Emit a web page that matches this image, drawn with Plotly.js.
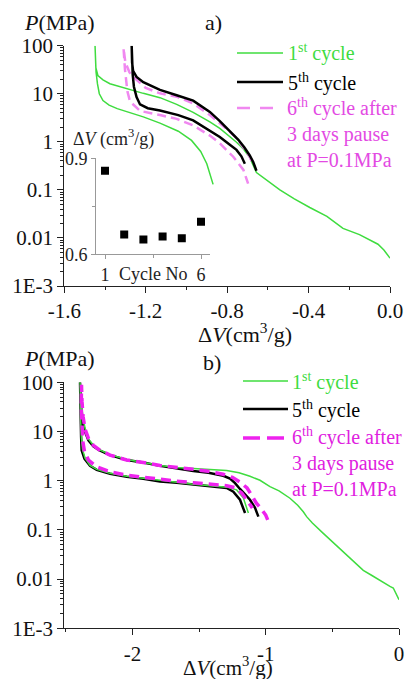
<!DOCTYPE html>
<html>
<head>
<meta charset="utf-8">
<script src="https://cdn.plot.ly/plotly-3.0.1.min.js"></script>
<style>
html,body{margin:0;padding:0;background:#fff;}
#chart{width:405px;height:679px;}
</style>
</head>
<body>
<div id="chart"></div>
<script>
// ---------------- DATA ----------------
// Panel a) 1st cycle (compression then decompression)
const a_cycle1_dV = [0.0, -0.03, -0.059, -0.15, -0.231, -0.31, -0.394, -0.47, -0.541, -0.60, -0.656, -0.689, -0.72, -0.754, -0.80, -0.836, -0.885, -0.934, -0.967, -1.048, -1.13, -1.212, -1.293, -1.376, -1.41, -1.435, -1.445, -1.448, -1.449,
                     -1.448, -1.444, -1.437, -1.428, -1.41, -1.38, -1.34, -1.29, -1.212, -1.13, -1.04, -0.975, -0.93, -0.90, -0.869];
const a_cycle1_P  = [0.0038, 0.0056, 0.0074, 0.0117, 0.0158, 0.028, 0.043, 0.065, 0.10, 0.15, 0.23, 0.47, 0.71, 0.98, 1.41, 1.9, 2.6, 3.4, 4.1, 6.0, 8.3, 10.2, 12.9, 16.2, 19.5, 24, 35, 56, 100,
                     50, 28, 16, 10, 7.2, 5.8, 4.9, 4.2, 3.3, 2.45, 1.66, 1.07, 0.63, 0.35, 0.13];
// Panel a) 5th cycle
const a_cycle5_dV = [-0.656, -0.672, -0.689, -0.715, -0.745, -0.79, -0.836, -0.885, -0.934, -0.967, -1.048, -1.13, -1.212, -1.245, -1.262, -1.267, -1.269,
                     -1.268, -1.264, -1.258, -1.245, -1.228, -1.19, -1.13, -1.04, -0.967, -0.90, -0.836, -0.79, -0.754, -0.73, -0.713];
const a_cycle5_P  = [0.25, 0.38, 0.52, 0.76, 1.1, 1.74, 2.7, 4.2, 5.75, 7.2, 9.3, 12, 17.4, 22.4, 30, 45, 100,
                     50, 25, 14, 8.5, 6.0, 5.0, 4.5, 3.6, 2.8, 1.9, 1.26, 0.89, 0.68, 0.5, 0.35];
// Panel a) 6th cycle after 3 days pause
const a_cycle6_dV = [-0.68, -0.689, -0.72, -0.754, -0.80, -0.885, -0.967, -1.048, -1.13, -1.20, -1.245, -1.28, -1.30, -1.309,
                     -1.305, -1.302, -1.297, -1.29, -1.277, -1.228, -1.13, -1.048, -0.967, -0.885, -0.836, -0.77, -0.72, -0.697];
const a_cycle6_P  = [0.40, 0.49, 0.76, 1.2, 1.82, 3.6, 6.3, 8.7, 10.2, 13.2, 19.5, 28, 45, 89,
                     50, 32, 17.8, 11.2, 6.9, 4.4, 3.6, 3.0, 2.2, 1.35, 0.93, 0.49, 0.26, 0.135];
// Inset: volume change per cycle
const inset_cycle = [1, 2, 3, 4, 5, 6];
const inset_dV    = [0.861, 0.662, 0.646, 0.656, 0.650, 0.702];
// Panel b) 1st cycle
const b_cycle1_dV = [0.0, -0.043, -0.068, -0.118, -0.2, -0.268, -0.35, -0.418, -0.493, -0.568, -0.65, -0.693, -0.718, -0.76, -0.818, -0.90, -0.968, -1.043, -1.118, -1.20, -1.293, -1.40, -1.543, -1.668, -1.793, -1.918, -2.043, -2.168, -2.25, -2.293, -2.33, -2.35, -2.365, -2.378, -2.388, -2.393,
                     -2.392, -2.388, -2.383, -2.375, -2.355, -2.318, -2.268, -2.168, -2.043, -1.918, -1.793, -1.668, -1.543, -1.418, -1.293, -1.218, -1.168, -1.13];
const b_cycle1_P  = [0.0038, 0.0066, 0.0071, 0.0087, 0.0117, 0.0151, 0.024, 0.035, 0.054, 0.085, 0.138, 0.186, 0.234, 0.316, 0.44, 0.62, 0.76, 1.02, 1.23, 1.45, 1.62, 1.70, 1.78, 1.86, 2.04, 2.34, 2.69, 3.39, 4.27, 5.25, 7.08, 10, 15.8, 28, 50, 100,
                     40, 15.8, 7.9, 4.37, 2.88, 2.04, 1.70, 1.41, 1.23, 1.12, 1.0, 0.93, 0.85, 0.79, 0.74, 0.65, 0.45, 0.22];
// Panel b) 5th cycle
const b_cycle5_dV = [-1.055, -1.08, -1.118, -1.155, -1.193, -1.23, -1.268, -1.318, -1.43, -1.543, -1.668, -1.793, -1.918, -2.043, -2.168, -2.25, -2.293, -2.33, -2.356, -2.37, -2.381, -2.388, -2.393,
                     -2.392, -2.389, -2.385, -2.381, -2.36, -2.318, -2.268, -2.168, -2.043, -1.918, -1.793, -1.668, -1.543, -1.418, -1.293, -1.243, -1.193, -1.155];
const b_cycle5_P  = [0.186, 0.28, 0.41, 0.52, 0.68, 0.89, 1.10, 1.26, 1.45, 1.58, 1.78, 2.0, 2.34, 2.63, 3.3, 4.17, 5.0, 6.6, 10, 14.1, 23.4, 40, 100,
                     40, 15.8, 7.9, 4.17, 2.82, 2.0, 1.66, 1.38, 1.20, 1.10, 0.96, 0.91, 0.83, 0.78, 0.71, 0.60, 0.41, 0.22];
// Panel b) 6th cycle after 3 days pause
const b_cycle6_dV = [-0.985, -1.0, -1.03, -1.07, -1.10, -1.14, -1.19, -1.25, -1.32, -1.43, -1.543, -1.668, -1.793, -1.918, -2.043, -2.168, -2.25, -2.293, -2.33, -2.355, -2.37, -2.378, -2.382,
                     -2.384, -2.38, -2.372, -2.36, -2.33, -2.268, -2.168, -2.043, -1.918, -1.793, -1.668, -1.543, -1.418, -1.293, -1.23, -1.18, -1.14, -1.10];
const b_cycle6_P  = [0.16, 0.20, 0.26, 0.35, 0.48, 0.71, 0.93, 1.17, 1.35, 1.55, 1.70, 1.86, 2.04, 2.34, 2.63, 3.31, 4.27, 5.25, 7.24, 11.2, 20, 40, 89,
                     31.6, 12.6, 6.3, 3.98, 2.63, 1.91, 1.51, 1.29, 1.17, 1.05, 0.98, 0.91, 0.85, 0.79, 0.72, 0.56, 0.40, 0.28];

// Tick labels
const yTickVals = [0.001, 0.01, 0.1, 1, 10, 100];
const yTickText = ['1E-3', '0.01', '0.1', '1', '10', '100'];
const xaTickVals = [-1.6, -1.2, -0.8, -0.4, 0.0];
const xaTickText = ['-1.6', '-1.2', '-0.8', '-0.4', '0.0'];
const xbTickVals = [-2, -1, 0];
const xbTickText = ['-2', '-1', '0'];
const insetXTickVals = [1, 6];
const insetXTickText = ['1', '6'];
const insetYTickVals = [0.6, 0.9];
const insetYTickText = ['0.6', '0.9'];

// Labels
const lbl1 = '1<sup>st</sup> cycle';
const lbl5 = '5<sup>th</sup> cycle';
const lbl6 = '6<sup>th</sup> cycle after<br>3 days pause<br>at P=0.1MPa';
const dVtitle = '&#916;<i>V</i>(cm<sup>3</sup>/g)';
const dVinset = '&#916;<i>V</i> (cm<sup>3</sup>/g)';

// ---------------- STYLE ----------------
const W = 405, H = 679;
const fx = v => v / W;
const fy = v => 1 - v / H;
const SERIF = 'Liberation Serif';
const GREEN = '#3fdc3f';
const MAG_A = '#f088f0';
const MAG_A_TXT = '#e34ae3';
const MAG_B = '#ee22ee';
const MAG_B_TXT = '#e020e0';

const minorLog = [];
for (let e = -3; e < 2; e++) for (let m = 2; m <= 9; m++) minorLog.push(m * Math.pow(10, e));

const traces = [
  {x: a_cycle1_dV, y: a_cycle1_P, xaxis: 'x', yaxis: 'y', mode: 'lines', line: {color: GREEN, width: 1.5}, showlegend: false},
  {x: a_cycle6_dV, y: a_cycle6_P, xaxis: 'x', yaxis: 'y', mode: 'lines', line: {color: MAG_A, width: 2.5, dash: '9px,5px'}, showlegend: false},
  {x: a_cycle5_dV, y: a_cycle5_P, xaxis: 'x', yaxis: 'y', mode: 'lines', line: {color: '#000', width: 2.5}, showlegend: false},
  {x: inset_cycle, y: inset_dV, xaxis: 'x3', yaxis: 'y3', mode: 'markers', marker: {symbol: 'square', color: '#000', size: 8}, showlegend: false},
  {x: b_cycle5_dV, y: b_cycle5_P, xaxis: 'x2', yaxis: 'y2', mode: 'lines', line: {color: '#000', width: 2.5}, showlegend: false},
  {x: b_cycle1_dV, y: b_cycle1_P, xaxis: 'x2', yaxis: 'y2', mode: 'lines', line: {color: GREEN, width: 1.5}, showlegend: false},
  {x: b_cycle6_dV, y: b_cycle6_P, xaxis: 'x2', yaxis: 'y2', mode: 'lines', line: {color: MAG_B, width: 3.5, dash: '10px,6px'}, showlegend: false}
];

const axCommon = {
  showgrid: false, zeroline: false, showline: true, linecolor: '#222', linewidth: 1,
  ticks: 'outside', ticklen: 6, tickwidth: 1, tickcolor: '#222',
  tickfont: {family: SERIF, size: 21, color: '#111'}
};

function ann(text, x, y, size, color, xanchor) {
  return {text: text, x: fx(x), y: fy(y), xref: 'paper', yref: 'paper', showarrow: false,
    xanchor: xanchor || 'center', yanchor: 'middle', align: 'left',
    font: {family: SERIF, size: size, color: color}};
}
function sampleLine(x0, x1, y, color, width, dash) {
  return {type: 'line', xref: 'paper', yref: 'paper', x0: fx(x0), x1: fx(x1), y0: fy(y), y1: fy(y),
    line: {color: color, width: width, dash: dash || 'solid'}};
}

const layout = {
  width: W, height: H,
  margin: {l: 0, r: 0, t: 0, b: 0},
  paper_bgcolor: '#fff', plot_bgcolor: 'rgba(0,0,0,0)',
  showlegend: false,
  font: {family: SERIF},
  xaxis: Object.assign({}, axCommon, {
    domain: [fx(64.3), fx(390)], range: [-1.6, 0], anchor: 'y',
    tickmode: 'array', tickvals: xaTickVals, ticktext: xaTickText,
    minor: {ticks: 'outside', ticklen: 3, tickcolor: '#222', tickmode: 'array', tickvals: [-1.4, -1.0, -0.6, -0.2]}
  }),
  yaxis: Object.assign({}, axCommon, {
    domain: [fy(286), fy(45.7)], type: 'log', range: [-3, 2], anchor: 'x',
    tickmode: 'array', tickvals: yTickVals, ticktext: yTickText,
    minor: {ticks: 'outside', ticklen: 3, tickcolor: '#222', tickmode: 'array', tickvals: minorLog}
  }),
  xaxis2: Object.assign({}, axCommon, {
    domain: [fx(64.3), fx(399)], range: [-2.511, 0], anchor: 'y2',
    tickmode: 'array', tickvals: xbTickVals, ticktext: xbTickText,
    minor: {ticks: 'outside', ticklen: 3, tickcolor: '#222', tickmode: 'array', tickvals: [-2.5, -1.5, -0.5]}
  }),
  yaxis2: Object.assign({}, axCommon, {
    domain: [fy(628.3), fy(382.3)], type: 'log', range: [-3, 2], anchor: 'x2',
    tickmode: 'array', tickvals: yTickVals, ticktext: yTickText,
    minor: {ticks: 'outside', ticklen: 3, tickcolor: '#222', tickmode: 'array', tickvals: minorLog}
  }),
  xaxis3: {
    domain: [fx(96), fx(210)], range: [0.531, 6.469], anchor: 'y3',
    showgrid: false, zeroline: false, showline: true, linecolor: '#999', linewidth: 1,
    ticks: 'outside', ticklen: 4, tickcolor: '#999',
    tickmode: 'array', tickvals: insetXTickVals, ticktext: insetXTickText,
    tickfont: {family: SERIF, size: 18, color: '#222'},
    minor: {ticks: 'outside', ticklen: 3, tickcolor: '#999', tickmode: 'array', tickvals: [3.5]}
  },
  yaxis3: {
    domain: [fy(254.3), fy(158.3)], range: [0.6, 0.9], anchor: 'x3',
    showgrid: false, zeroline: false, showline: true, linecolor: '#999', linewidth: 1,
    ticks: 'outside', ticklen: 4, tickcolor: '#999',
    tickmode: 'array', tickvals: insetYTickVals, ticktext: insetYTickText,
    tickfont: {family: SERIF, size: 18, color: '#222'},
    minor: {ticks: 'outside', ticklen: 3, tickcolor: '#999', tickmode: 'array', tickvals: [0.75]}
  },
  shapes: [
    sampleLine(237, 283, 53, GREEN, 1.5),
    sampleLine(237, 283, 82, '#000', 2.5),
    sampleLine(237, 283, 108, MAG_A, 2.5, '13px,10px'),
    sampleLine(243, 288, 381, GREEN, 1.5),
    sampleLine(243, 288, 409, '#000', 2.5),
    sampleLine(243, 288, 438, MAG_B, 3.5, '17px,7px')
  ],
  annotations: [
    ann('<i>P</i>(MPa)', 59, 23, 22, '#111'),
    ann('a)', 213, 23, 22, '#111'),
    ann(dVtitle, 245, 333, 22, '#111'),
    ann('<i>P</i>(MPa)', 59, 358, 22, '#111'),
    ann('b)', 212, 362, 22, '#111'),
    ann(dVtitle, 228, 666, 21, '#111'),
    ann(dVinset, 113, 138, 18, '#222'),
    ann('Cycle No', 153, 274, 18, '#222'),
    ann(lbl1, 286, 53, 20, GREEN, 'left'),
    ann(lbl5, 286, 82, 20, '#000', 'left'),
    ann(lbl6, 285, 133, 20, MAG_A_TXT, 'left'),
    ann(lbl1, 290, 381, 20, GREEN, 'left'),
    ann(lbl5, 290, 409, 20, '#000', 'left'),
    ann(lbl6, 290, 462, 20, MAG_B_TXT, 'left')
  ]
};

Plotly.newPlot('chart', traces, layout, {displayModeBar: false, staticPlot: true});
</script>
</body>
</html>
